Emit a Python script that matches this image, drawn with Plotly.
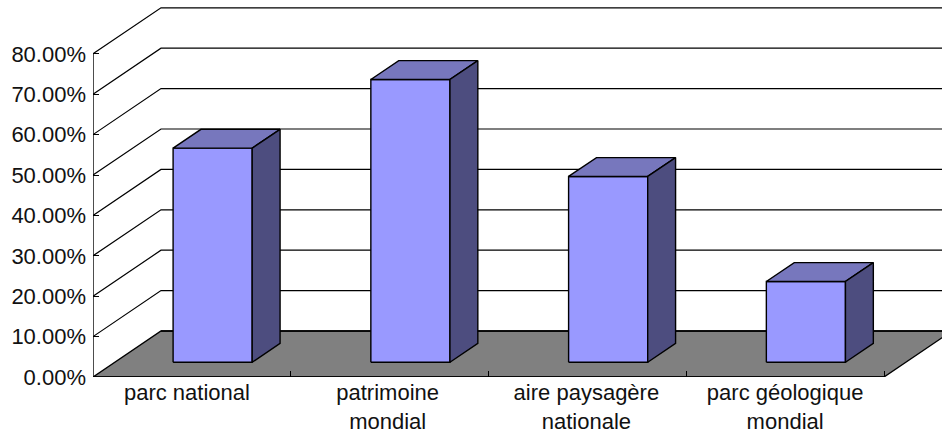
import plotly.graph_objects as go

categories = ["parc national", "patrimoine<br>mondial", "aire paysagère<br>nationale", "parc géologique<br>mondial"]
values = [53, 70, 46, 20]
tick_values = [0, 10, 20, 30, 40, 50, 60, 70, 80]

UX, UY = 197.75, 4.04             # pixels per category / per percent
DX, DY = 68 / UX, 46 / UY         # depth of the 3D floor in axis units
Z0, Z1 = 0.32, 0.73               # front/back depth of the bars
BAR = 0.40
BAR_SHIFT = -0.005
LABEL_SHIFT = [-0.025, -0.01, -0.005, 0.0]
XMAX = (942 - 93) / UX
YMAX = (377 - 4) / UY
FONT = dict(family="Liberation Sans, Arial, sans-serif", size=22, color="#111111")

fig = go.Figure()

def poly(xs, ys, fill=None, width=1.0):
    fig.add_trace(go.Scatter(
        x=xs, y=ys, mode="lines", hoverinfo="skip", showlegend=False,
        line=dict(color="black", width=width),
        fill="toself" if fill else None, fillcolor=fill,
    ))

n = len(categories)
# floor
poly([0, n, n + DX, DX, 0], [0, 0, DY, DY, 0], "#808080", 1.4)
poly([DX, XMAX], [DY, DY], None, 1.4)
# value axis and grid
poly([0, 0], [0, max(tick_values)], None, 1.4)
for v in tick_values[1:]:
    poly([0, DX, XMAX], [v, v + DY, v + DY], None, 1.2)
# front axis line on top of the floor
poly([0, n], [0, 0], None, 1.6)

# bars
for i, v in enumerate(values):
    c = i + 0.5 + Z0 * DX + BAR_SHIFT
    l, r = c - BAR / 2, c + BAR / 2
    b = Z0 * DY
    t = b + v
    ox, oy = (Z1 - Z0) * DX, (Z1 - Z0) * DY
    poly([l, r, r, l, l], [b, b, t, t, b], "#9999FF", 1.4)
    poly([l, r, r + ox, l + ox, l], [t, t, t + oy, t + oy, t], "#7777BD", 1.4)
    poly([r, r + ox, r + ox, r, r], [b, b + oy, t + oy, t, b], "#4D4D7F", 1.4)

fig.add_trace(go.Scatter(x=[0.5], y=[0], xaxis="x2", mode="markers",
                         marker=dict(opacity=0), hoverinfo="skip", showlegend=False))

fig.update_layout(
    width=942, height=434, autosize=False,
    margin=dict(l=93, r=0, t=4, b=57),
    paper_bgcolor="white", plot_bgcolor="white",
    showlegend=False,
    xaxis=dict(range=[0, XMAX], tickmode="array", tickvals=list(range(n + 1)),
               showticklabels=False, showgrid=False, zeroline=False, showline=False,
               ticks="inside", ticklen=6, tickcolor="black", tickwidth=1, automargin=False),
    xaxis2=dict(range=[0, XMAX], overlaying="x", side="bottom", anchor="y",
                tickmode="array", tickvals=[i + 0.5 + LABEL_SHIFT[i] for i in range(n)],
                ticktext=categories,
                showgrid=False, zeroline=False, showline=False, ticks="", tickfont=FONT,
                tickangle=0, ticklabelstandoff=0, automargin=False),
    yaxis=dict(range=[0, YMAX], tickmode="array", tickvals=tick_values,
               ticktext=[f"{v:.2f}%" for v in tick_values],
               showgrid=False, zeroline=False, showline=False,
               ticks="inside", ticklen=6, tickcolor="black", tickwidth=1, tickfont=FONT,
               ticklabelstandoff=6, automargin=False),
)
fig.write_html("out.html", config={"displayModeBar": False},
               post_script="document.body.style.margin='0';")
